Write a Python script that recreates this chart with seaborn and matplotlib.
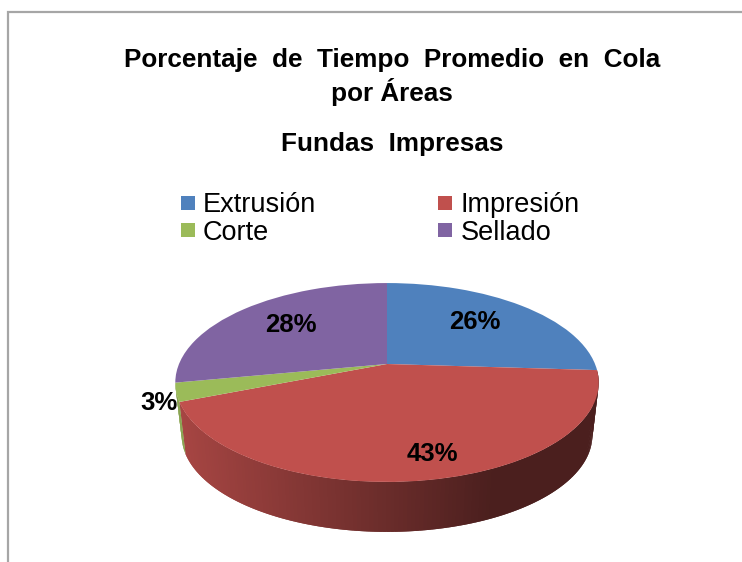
"""
Tilted pie of average queue time per area, drawn from ax.pie wedges
"""

import numpy as np
import matplotlib
matplotlib.use("Agg")
import matplotlib.pyplot as plt
import seaborn as sns
from matplotlib.lines import Line2D
from matplotlib.transforms import Transform

areas = ["Extrusión", "Impresión", "Corte", "Sellado"]
percentages = [26, 43, 3, 28]
colors = ["#4F81BD", "#C0504D", "#9BBB59", "#8064A2"]

title_lines = ["Porcentaje  de  Tiempo  Promedio  en  Cola", "por Áreas"]
subtitle = "Fundas  Impresas"

# pie geometry in image pixels
CX, CY = 387, 364
RX, RY = 208, 96
PERSPECTIVE = 0.186
WALL_DROP = 53.5
WALL_SCALE = 0.97


class TiltedPie(Transform):
    """Project the unit circle of the pie onto the tilted top face."""
    input_dims = 2
    output_dims = 2

    def __init__(self, scale=1.0, drop=0.0):
        super().__init__()
        self.scale = scale
        self.drop = drop

    def transform_non_affine(self, values):
        values = np.asarray(values)
        w = 1 + PERSPECTIVE * values[:, 1]
        x = CX + self.scale * RX * values[:, 0] / w
        y = CY + self.drop - self.scale * RY * values[:, 1] / w
        return np.column_stack((x, y))


def draw_wall(ax, fractions):
    """Draw the front side of the pie as thin shaded strips."""
    top = TiltedPie()
    bottom = TiltedPie(WALL_SCALE, WALL_DROP)
    edges = np.cumsum([0] + list(fractions)) / sum(fractions) * 2 * np.pi
    for start, end, color in zip(edges[:-1], edges[1:], colors):
        # only slices facing the viewer show their side
        if not np.pi / 2 < (start + end) / 2 < 3 * np.pi / 2:
            continue
        base = np.array(matplotlib.colors.to_rgb(color))
        steps = np.linspace(start, end, max(int((end - start) * 60), 4))
        gap = steps[1] - steps[0]
        for t0 in steps[:-1]:
            # each strip runs on under the next one so no seam shows
            t1 = min(t0 + 2 * gap, end)
            unit = np.array([[np.sin(t0), np.cos(t0)], [np.sin(t1), np.cos(t1)]])
            upper = top.transform(unit)
            lower = bottom.transform(unit)[::-1]
            quad = np.vstack((upper, lower))
            shade = np.interp(quad[:, 0].mean(), [180, 490], [0.87, 0.39])
            ax.fill(quad[:, 0], quad[:, 1], facecolor=base * shade, edgecolor="none", lw=0, zorder=1)


sns.set_theme(style="white")
plt.rcParams["font.family"] = ["Liberation Sans", "DejaVu Sans"]

fig = plt.figure(figsize=(7.42, 5.62), dpi=100)
ax = fig.add_axes([0, 0, 1, 1])

wedges, _ = ax.pie(percentages, colors=colors, startangle=90, counterclock=False,
                   wedgeprops={"edgecolor": "none", "linewidth": 0})
for wedge in wedges:
    wedge.set_transform(TiltedPie() + ax.transData)
    wedge.set_zorder(2)
draw_wall(ax, percentages)

ax.set_aspect("auto")
ax.set_xlim(0, 742)
ax.set_ylim(562, 0)
ax.axis("off")

# picture frame, open on the right
ax.plot([8, 8, 742], [562, 12, 12], color="#A6A6A6", lw=1.6, solid_joinstyle="miter")

ax.text(392, 60, title_lines[0], ha="center", va="center", fontsize=18.8, fontweight="bold", color="black")
ax.text(392, 92, title_lines[1], ha="center", va="center", fontsize=18.8, fontweight="bold", color="black")
ax.text(392, 144, subtitle, ha="center", va="center", fontsize=18.8, fontweight="bold", color="black")

label_spots = [(475, 322), (432, 454), (159, 403), (291, 325)]
for value, (x, y) in zip(percentages, label_spots):
    ax.text(x, y, f"{value}%", ha="center", va="center", fontsize=18.5, fontweight="bold", color="black", zorder=3)

handles = [Line2D([], [], ls="none", marker="s", ms=10, mew=0, color=c) for c in colors]
# columns fill first, so reorder to read across the rows
order = [0, 2, 1, 3]
ax.legend([handles[i] for i in order], [areas[i] for i in order], ncol=2,
          loc="upper left", bbox_to_anchor=(181 / 742, 1 - 192 / 562), frameon=False,
          fontsize=19.5, labelcolor="black", handlelength=0.5, handletextpad=0.315, labelspacing=0.06,
          columnspacing=4.5, borderpad=0, borderaxespad=0)

fig.savefig("out.png", dpi=100)
